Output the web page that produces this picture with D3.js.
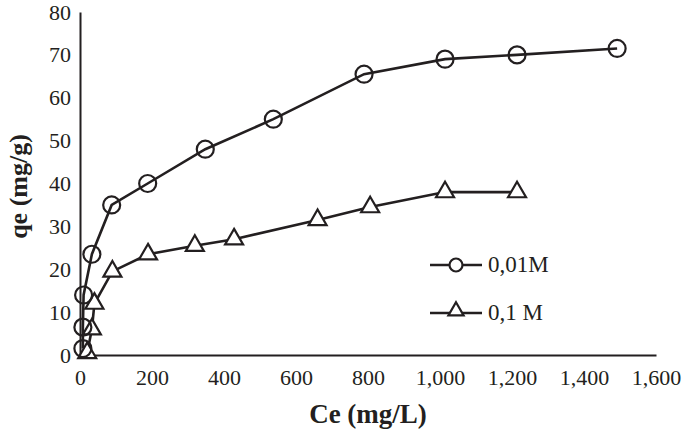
<!DOCTYPE html>
<html>
<head>
<meta charset="utf-8">
<script src="https://cdn.jsdelivr.net/npm/d3@7"></script>
<style>
  body { margin: 0; background: #fff; }
  text { font-family: "Liberation Serif", "Times New Roman", serif; fill: #231f20; }
</style>
</head>
<body>
<div id="chart"></div>
<script>
// Data
const seriesNames = ["0,01M", "0,1 M"];
const ceLow = [8, 8, 10, 33, 88, 188, 348, 537, 789, 1014, 1214, 1492];
const qeLow = [1.5, 6.5, 14, 23.5, 35, 40, 48, 55, 65.5, 69, 70, 71.5];
const ceHigh = [20, 33, 40, 90, 189, 319, 428, 660, 806, 1014, 1214];
const qeHigh = [0.5, 6, 12, 19.5, 23.5, 25.5, 27, 31.5, 34.5, 38, 38];
const xTicks = [0, 200, 400, 600, 800, 1000, 1200, 1400, 1600];
const yTicks = [0, 10, 20, 30, 40, 50, 60, 70, 80];

const width = 685, height = 432;
const margin = { top: 12, right: 29, bottom: 77, left: 80 };
const innerW = width - margin.left - margin.right;
const innerH = height - margin.top - margin.bottom;
const ink = "#231f20";

const svg = d3.select("#chart").append("svg")
  .attr("width", width)
  .attr("height", height);

const g = svg.append("g")
  .attr("transform", `translate(${margin.left},${margin.top})`);

const x = d3.scaleLinear().domain([0, 1600]).range([0, innerW]);
const y = d3.scaleLinear().domain([0, 80]).range([innerH, 0]);

// Axes (no tick marks)
const xAxis = g.append("g")
  .attr("transform", `translate(0,${innerH})`)
  .call(d3.axisBottom(x).tickValues(xTicks).tickSize(0).tickPadding(14)
    .tickFormat(d3.format(",")));
const yAxis = g.append("g")
  .call(d3.axisLeft(y).tickValues(yTicks).tickSize(0).tickPadding(9));

[xAxis, yAxis].forEach(a => {
  a.select(".domain").attr("stroke", ink).attr("stroke-width", 2);
  a.selectAll("text").style("font-size", "22px").attr("fill", ink)
    .style("font-family", "Liberation Serif");
});

// Axis titles
svg.append("text")
  .attr("x", 368)
  .attr("y", 423)
  .attr("text-anchor", "middle")
  .style("font-size", "27px")
  .style("font-weight", "bold")
  .text("Ce (mg/L)");

svg.append("text")
  .attr("transform", `translate(27,${margin.top + innerH / 2 + 3}) rotate(-90)`)
  .attr("text-anchor", "middle")
  .style("font-size", "26px")
  .style("font-weight", "bold")
  .text("qe (mg/g)");

const line = d3.line().x(d => x(d[0])).y(d => y(d[1]));
const lowData = ceLow.map((c, i) => [c, qeLow[i]]);
const highData = ceHigh.map((c, i) => [c, qeHigh[i]]);

const triangle = d3.symbol().type(d3.symbolTriangle).size(140);

// 0,1 M series
g.append("path").datum(highData)
  .attr("d", line).attr("fill", "none")
  .attr("stroke", ink).attr("stroke-width", 2.6);
g.selectAll(".tri").data(highData).enter().append("path")
  .attr("class", "tri")
  .attr("d", triangle)
  .attr("transform", d => `translate(${x(d[0])},${y(d[1])})`)
  .attr("fill", "#fff").attr("stroke", ink).attr("stroke-width", 2.2);

// 0,01M series
g.append("path").datum(lowData)
  .attr("d", line).attr("fill", "none")
  .attr("stroke", ink).attr("stroke-width", 2.6);
g.selectAll(".circ").data(lowData).enter().append("circle")
  .attr("class", "circ")
  .attr("cx", d => x(d[0])).attr("cy", d => y(d[1]))
  .attr("r", 8.5)
  .attr("fill", "none").attr("stroke", ink).attr("stroke-width", 2.2);

// Legend
const legend = svg.append("g").attr("transform", "translate(430,265)");
seriesNames.forEach((name, i) => {
  const item = legend.append("g").attr("transform", `translate(0,${i * 48})`);
  item.append("line").attr("x1", 0).attr("x2", 52)
    .attr("stroke", ink).attr("stroke-width", 2.6);
  if (i === 0) {
    item.append("circle").attr("cx", 26).attr("r", 6.5)
      .attr("fill", "#fff").attr("stroke", ink).attr("stroke-width", 2.2);
  } else {
    item.append("path").attr("d", d3.symbol().type(d3.symbolTriangle).size(100))
      .attr("transform", "translate(26,-2)")
      .attr("fill", "#fff").attr("stroke", ink).attr("stroke-width", 2.2);
  }
  item.append("text").attr("x", 58).attr("y", 7)
    .style("font-size", "23px").text(name);
});
</script>
</body>
</html>
